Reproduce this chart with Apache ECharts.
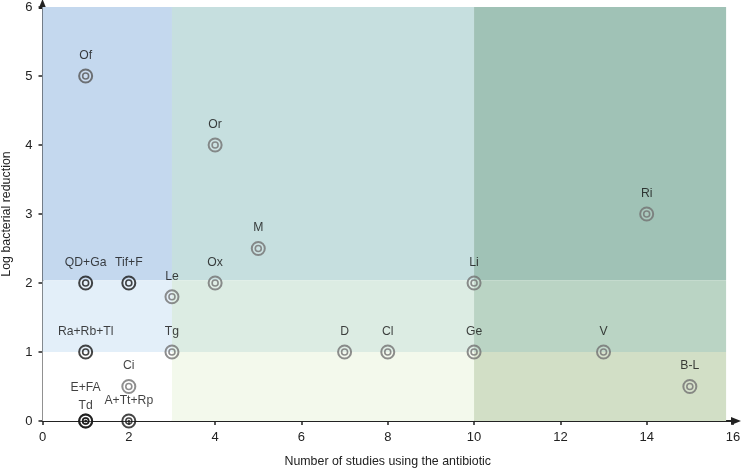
<!DOCTYPE html>
<html>
<head>
<meta charset="utf-8">
<script src="https://cdn.jsdelivr.net/npm/echarts@6/dist/echarts.min.js"></script>
<style>html,body{margin:0;padding:0;background:#fff}#c{width:742px;height:469px}</style>
</head>
<body>
<div id="c"></div>
<script>
// Data
var names = ['Of','Or','M','Ri','QD+Ga','Tif+F','Le','Ox','Li','Ra+Rb+Tl','Tg','D','Cl','Ge','V','Ci','B-L','E+FA','Td','A+Tt+Rp'];
var studies = [1,4,5,14,1,2,3,4,10,1,3,7,8,10,13,2,15,1,1,2];
var logReduction = [5,4,2.5,3,2,2,1.8,2,2,1,1,1,1,1,1,0.5,0.5,0,0,0];
var markerTone = ['mid','gray','gray','gray','black','black','gray','gray','gray','black','gray','gray','gray','gray','gray','gray','gray','black','black','black'];
var xTicks = [0,2,4,6,8,10,12,14,16];
var yTicks = [0,1,2,3,4,5,6];
// Background zones: [xFrom, xTo, yFrom, yTo]
var zoneX = [[0,3],[3,10],[10,15.84]];
var zoneY = [[2.04,6],[1,2.04],[0,1]];
var zoneColors = [
  ['#c4d8ee','#c6dfdf','#a0c2b6'],
  ['#e3eff9','#dcece3','#bad4c4'],
  ['#ffffff','#f3f9ec','#d2dfc6']
];

var toneColor = {black:'#161616', mid:'#555555', gray:'#727272'};
var labelOffsets = {'E+FA':[0,-13], 'Td':[0,5]};

var areas = [];
for (var r = 0; r < zoneY.length; r++) {
  for (var c = 0; c < zoneX.length; c++) {
    areas.push([
      {xAxis: zoneX[c][0], yAxis: zoneY[r][0], itemStyle: {color: zoneColors[r][c], opacity: 1}},
      {xAxis: zoneX[c][1], yAxis: zoneY[r][1]}
    ]);
  }
}

var outer = [], inner = [], dots = [];
for (var i = 0; i < names.length; i++) {
  var col = toneColor[markerTone[i]];
  var off = labelOffsets[names[i]] || [0,0];
  outer.push({
    value: [studies[i], logReduction[i]], name: names[i],
    itemStyle: {color: 'rgba(255,255,255,0.15)', borderColor: col},
    label: {show: true, formatter: names[i], offset: off}
  });
  inner.push({
    value: [studies[i], logReduction[i]],
    itemStyle: {color: 'rgba(0,0,0,0)', borderColor: col}
  });
  if (logReduction[i] === 0) {
    dots.push({value: [studies[i], logReduction[i]], itemStyle: {color: col}});
  }
}

var chart = echarts.init(document.getElementById('c'));
chart.setOption({
  animation: false,
  grid: {left: 42.5, right: 9, top: 7, bottom: 48, containLabel: false, outerBoundsMode: 'none'},
  xAxis: {
    type: 'value', min: 0, max: 16, interval: 2,
    name: 'Number of studies using the antibiotic',
    nameLocation: 'middle', nameGap: 35, nameMoveOverlap: false,
    nameTextStyle: {fontFamily: 'Liberation Sans', fontSize: 12.4, color: '#222'},
    axisLine: {show: true, symbol: ['none','triangle'], symbolSize: [8,10], symbolOffset: [0,3], lineStyle: {color: '#222', width: 2}},
    axisTick: {show: true, length: 4, lineStyle: {color: '#222', width: 1.5}},
    axisLabel: {fontFamily: 'Liberation Sans', fontSize: 13, color: '#222', margin: 10},
    splitLine: {show: false}
  },
  yAxis: {
    type: 'value', min: 0, max: 6, interval: 1,
    name: 'Log bacterial reduction',
    nameLocation: 'middle', nameGap: 30, nameMoveOverlap: false,
    nameTextStyle: {fontFamily: 'Liberation Sans', fontSize: 12.4, color: '#222'},
    axisLine: {show: true, symbol: ['none','triangle'], symbolSize: [8,10], symbolOffset: [0,3], lineStyle: {color: '#222', width: 2}},
    axisTick: {show: true, length: 4, lineStyle: {color: '#222', width: 1.5}},
    axisLabel: {fontFamily: 'Liberation Sans', fontSize: 13, color: '#222', margin: 10},
    splitLine: {show: false}
  },
  series: [
    {
      type: 'scatter', data: [], silent: true, z: 1,
      markArea: {silent: true, data: areas}
    },
    {
      type: 'scatter', data: outer, symbol: 'circle', symbolSize: 13, z: 3,
      itemStyle: {borderWidth: 2},
      label: {position: 'top', distance: 7, color: '#111', fontFamily: 'Liberation Sans', fontSize: 12.2}
    },
    {
      type: 'scatter', data: inner, symbol: 'circle', symbolSize: 6, z: 4,
      itemStyle: {borderWidth: 1.6}
    },
    {
      type: 'scatter', data: dots, symbol: 'circle', symbolSize: 2.5, z: 5
    }
  ]
});
</script>
</body>
</html>
